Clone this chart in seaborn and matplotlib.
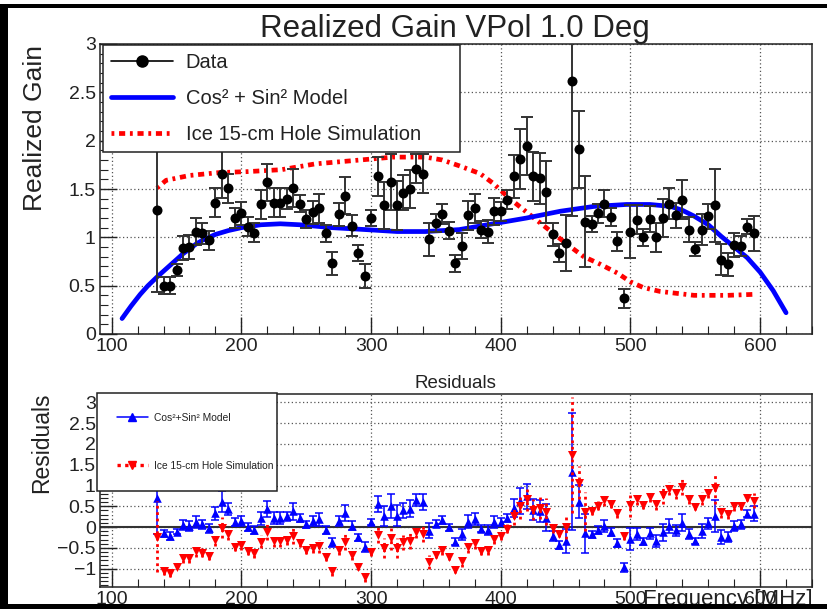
import numpy as np
import matplotlib
matplotlib.use("Agg")
import matplotlib.pyplot as plt
from matplotlib.patches import Rectangle
from matplotlib.lines import Line2D
from matplotlib.ticker import MultipleLocator, FixedLocator, FuncFormatter
import seaborn as sns

# ---- measured realized gain (VPol, 1.0 deg) ----
freq = [135, 140, 145, 150, 155, 160, 165, 170, 175, 180,
        185, 190, 195, 200, 205, 210, 215, 220, 225, 230,
        235, 240, 245, 250, 255, 260, 265, 270, 275, 280,
        285, 290, 295, 300, 305, 310, 315, 320, 325, 330,
        335, 340, 345, 350, 355, 360, 365, 370, 375, 380,
        385, 390, 395, 400, 405, 410, 415, 420, 425, 430,
        435, 440, 445, 450, 455, 460, 465, 470, 475, 480,
        485, 490, 495, 500, 505, 510, 515, 520, 525, 530,
        535, 540, 545, 550, 555, 560, 565, 570, 575, 580,
        585, 590, 595]
gain = [1.28, 0.50, 0.50, 0.66, 0.89, 0.90, 1.06, 1.04, 0.97, 1.36,
        1.66, 1.51, 1.20, 1.25, 1.11, 1.05, 1.34, 1.57, 1.36, 1.36,
        1.40, 1.51, 1.35, 1.19, 1.26, 1.30, 1.04, 0.73, 1.24, 1.43,
        1.12, 0.84, 0.60, 1.20, 1.63, 1.33, 1.57, 1.33, 1.46, 1.50,
        1.71, 1.66, 0.98, 1.15, 1.24, 1.07, 0.73, 0.91, 1.23, 1.30,
        1.08, 1.06, 1.27, 1.27, 1.39, 1.63, 1.81, 1.94, 1.63, 1.61,
        1.47, 1.03, 0.84, 0.94, 2.62, 1.91, 1.16, 1.14, 1.25, 1.35,
        1.21, 0.96, 0.37, 1.06, 1.18, 1.00, 1.19, 1.00, 1.20, 1.35,
        1.23, 1.39, 1.08, 0.88, 1.08, 1.22, 1.33, 0.77, 0.72, 0.92,
        0.91, 1.11, 1.04]
gain_err = [0.85, 0.09, 0.09, 0.06, 0.12, 0.12, 0.14, 0.11, 0.10, 0.15,
            0.25, 0.15, 0.10, 0.12, 0.10, 0.10, 0.15, 0.19, 0.15, 0.15,
            0.11, 0.20, 0.09, 0.09, 0.12, 0.15, 0.09, 0.12, 0.12, 0.19,
            0.11, 0.08, 0.12, 0.08, 0.20, 0.24, 0.29, 0.25, 0.18, 0.20,
            0.15, 0.20, 0.17, 0.09, 0.10, 0.09, 0.09, 0.13, 0.15, 0.15,
            0.09, 0.12, 0.14, 0.10, 0.10, 0.22, 0.31, 0.30, 0.25, 0.26,
            0.32, 0.12, 0.09, 0.29, 1.40, 0.40, 0.47, 0.08, 0.10, 0.14,
            0.09, 0.10, 0.10, 0.27, 0.15, 0.09, 0.13, 0.15, 0.20, 0.16,
            0.13, 0.20, 0.13, 0.07, 0.16, 0.13, 0.38, 0.16, 0.12, 0.12,
            0.10, 0.08, 0.18]

# ---- Cos^2 + Sin^2 model curve ----
model_freq = [108, 115, 122, 128, 135, 140, 145, 150, 155, 160, 165, 170,
              180, 190, 200, 215, 230, 245, 270, 296, 320, 342, 368, 394,
              420, 446, 472, 497, 515, 531, 540, 549, 560, 570, 580, 590,
              600, 610, 620]
model_gain = [0.16, 0.29, 0.41, 0.50, 0.59, 0.65, 0.71, 0.77, 0.83, 0.88,
              0.93, 0.97, 1.03, 1.07, 1.10, 1.13, 1.14, 1.13, 1.10, 1.08,
              1.06, 1.06, 1.08, 1.14, 1.20, 1.27, 1.32, 1.34, 1.34, 1.32,
              1.28, 1.22, 1.13, 1.01, 0.90, 0.79, 0.64, 0.45, 0.22]

# ---- ice 15-cm hole simulation ----
sim_freq = [135, 142, 160, 183, 205, 231, 257, 283, 300, 317, 342, 355,
            368, 384, 394, 407, 420, 436, 451, 464, 477, 490, 500, 510,
            523, 549, 575, 595]
sim_gain = [1.51, 1.59, 1.64, 1.67, 1.68, 1.70, 1.76, 1.79, 1.81, 1.83,
            1.83, 1.80, 1.74, 1.66, 1.56, 1.40, 1.26, 1.09, 0.93, 0.80,
            0.72, 0.63, 0.54, 0.48, 0.44, 0.40, 0.40, 0.41]

freq_ticks = [100, 200, 300, 400, 500, 600]
gain_ticks = [0, 0.5, 1, 1.5, 2, 2.5, 3]
resid_ticks = [-1, -0.5, 0, 0.5, 1, 1.5, 2, 2.5, 3]

title = "Realized Gain VPol 1.0 Deg"
lbl_data = "Data"
lbl_model = "Cos² + Sin² Model"
lbl_model_short = "Cos²+Sin² Model"
lbl_sim = "Ice 15-cm Hole Simulation"

# residuals: data minus each curve evaluated at the measured frequencies
f_arr = np.asarray(freq, dtype=float)
g_arr = np.asarray(gain, dtype=float)
res_model = g_arr - np.interp(f_arr, model_freq, model_gain)
res_sim = g_arr - np.interp(f_arr, sim_freq, sim_gain)

sns.set_theme(style="white")
plt.rcParams['font.family'] = ['Liberation Sans', 'DejaVu Sans']
plt.rcParams['axes.unicode_minus'] = True

W, H = 827, 609
fig = plt.figure(figsize=(W / 100, H / 100), dpi=100)
fig.patch.set_facecolor('white')


def px_axes(left, top, right, bottom):
    return fig.add_axes([left / W, 1 - bottom / H, (right - left) / W, (bottom - top) / H])


ax = px_axes(100, 44, 812, 334)
axr = px_axes(100, 394, 812, 587)

SIM_DASH = (0, (0.6, 1.0, 1.3, 1.0))
fmt = FuncFormatter(lambda v, p: f"{v:g}".replace('-', '\u2212'))

for a in (ax, axr):
    a.set_facecolor('white')
    a.set_xlim(91, 640)
    for s in a.spines.values():
        s.set_visible(True)
        s.set_color('#222222')
        s.set_linewidth(1.1)
    a.xaxis.set_major_locator(FixedLocator(freq_ticks))
    a.xaxis.set_minor_locator(MultipleLocator(20))
    a.xaxis.set_major_formatter(fmt)
    a.yaxis.set_major_formatter(fmt)
    a.tick_params(which='major', direction='in', length=12, width=1.0,
                  colors='#222222', labelcolor='#222222', labelsize=14,
                  top=False, right=False, bottom=True, left=True, pad=3)
    a.tick_params(which='minor', direction='in', length=6, width=0.8,
                  colors='#222222', top=False, right=False, bottom=True, left=True)
    a.grid(True, which='major', linestyle=(0, (1, 2)), color='#555555', linewidth=0.9)
    a.grid(False, which='minor')
    a.set_axisbelow(True)

# ---- upper panel ----
ax.set_ylim(0, 3)
ax.yaxis.set_major_locator(FixedLocator(gain_ticks))
ax.yaxis.set_minor_locator(MultipleLocator(0.1))

sns.lineplot(x=sim_freq, y=sim_gain, ax=ax, color='red', linewidth=3.4,
             linestyle=SIM_DASH, sort=False, estimator=None, legend=False, zorder=2)
sns.lineplot(x=model_freq, y=model_gain, ax=ax, color='blue', linewidth=3.4,
             sort=False, estimator=None, legend=False, zorder=3)
ax.errorbar(freq, gain, yerr=gain_err, fmt='none', ecolor='#333333',
            elinewidth=1.4, capsize=4, capthick=1.4, zorder=4)
sns.scatterplot(x=freq, y=gain, ax=ax, color='black', s=52, linewidth=0,
                legend=False, zorder=5)
ax.set_xlabel('')
ax.set_ylabel('')

handles_top = [
    Line2D([], [], color='black', lw=1.2, marker='o', markersize=8),
    Line2D([], [], color='blue', lw=3.4),
    Line2D([], [], color='red', lw=3.4, linestyle=SIM_DASH),
]
leg = ax.legend(handles_top, [lbl_data, lbl_model, lbl_sim],
                loc='upper left', bbox_to_anchor=(103 / W, 1 - 153 / H, 357 / W, 108 / H),
                bbox_transform=fig.transFigure, mode='expand', borderaxespad=0,
                fontsize=14.5, labelspacing=0.84, borderpad=0.4,
                handlelength=3.1, handletextpad=0.6, fancybox=False,
                framealpha=1, edgecolor='#222222')
leg.get_frame().set_linewidth(1.1)
for t in leg.get_texts():
    t.set_color('#222222')

# ---- residual panel ----
axr.set_ylim(-1.44, 3.2)
axr.yaxis.set_major_locator(FixedLocator(resid_ticks))
axr.yaxis.set_minor_locator(MultipleLocator(0.1))
axr.axhline(0, color='#333333', linewidth=1.5, zorder=2)

axr.errorbar(freq, res_model, yerr=gain_err, fmt='none', ecolor='blue',
             elinewidth=1.1, capsize=3, capthick=1.1, zorder=3)
sns.scatterplot(x=freq, y=res_model, ax=axr, color='blue', marker='^', s=38,
                linewidth=0, legend=False, zorder=4)
eb = axr.errorbar(freq, res_sim, yerr=gain_err, fmt='none', ecolor='red',
                  elinewidth=2.0, capsize=0, zorder=5)
eb[2][0].set_linestyle((0, (1, 1.3)))
sns.scatterplot(x=freq, y=res_sim, ax=axr, color='red', marker='v', s=42,
                linewidth=0, legend=False, zorder=6)
axr.set_xlabel('')
axr.set_ylabel('')

handles_bot = [
    Line2D([], [], color='blue', lw=1.1, marker='^', markersize=6),
    Line2D([], [], color='red', lw=2.4, linestyle=(0, (1, 1.3)), marker='v', markersize=6),
]
legr = axr.legend(handles_bot, [lbl_model_short, lbl_sim],
                  loc='upper left', bbox_to_anchor=(97 / W, 1 - 491 / H, 180 / W, 98 / H),
                  bbox_transform=fig.transFigure, mode='expand', borderaxespad=0,
                  fontsize=7.4, labelspacing=3.75, borderpad=1.9,
                  handlelength=3.1, handletextpad=0.5, fancybox=False,
                  framealpha=1, edgecolor='#222222')
legr.get_frame().set_linewidth(1.1)
for t in legr.get_texts():
    t.set_color('#222222')

# ---- titles and axis titles ----
fig.text(455 / W, 1 - 29 / H, title, ha='center', va='center', fontsize=22.5, color='#222222')
fig.text(35 / W, 1 - 128 / H, "Realized Gain", rotation=90, ha='center', va='center',
         fontsize=19, color='#222222')
fig.text(455 / W, 1 - 383 / H, "Residuals", ha='center', va='center', fontsize=13.5,
         color='#222222')
fig.text(42 / W, 1 - 443 / H, "Residuals", rotation=90, ha='center', va='center',
         fontsize=16.5, color='#222222')
fig.text(813 / W, 1 - 605 / H, "Frequency [MHz]", ha='right', va='baseline', fontsize=16,
         color='#222222')

# ---- outer border ----
for (x0, y0, w, h) in [(0, 4, 8, 605), (0, 4, W, 4), (0, 604, W, 5)]:
    fig.add_artist(Rectangle((x0 / W, 1 - (y0 + h) / H), w / W, h / H,
                             transform=fig.transFigure, facecolor='black',
                             edgecolor='none', zorder=50))

fig.savefig("out.png", dpi=100, facecolor='white')
